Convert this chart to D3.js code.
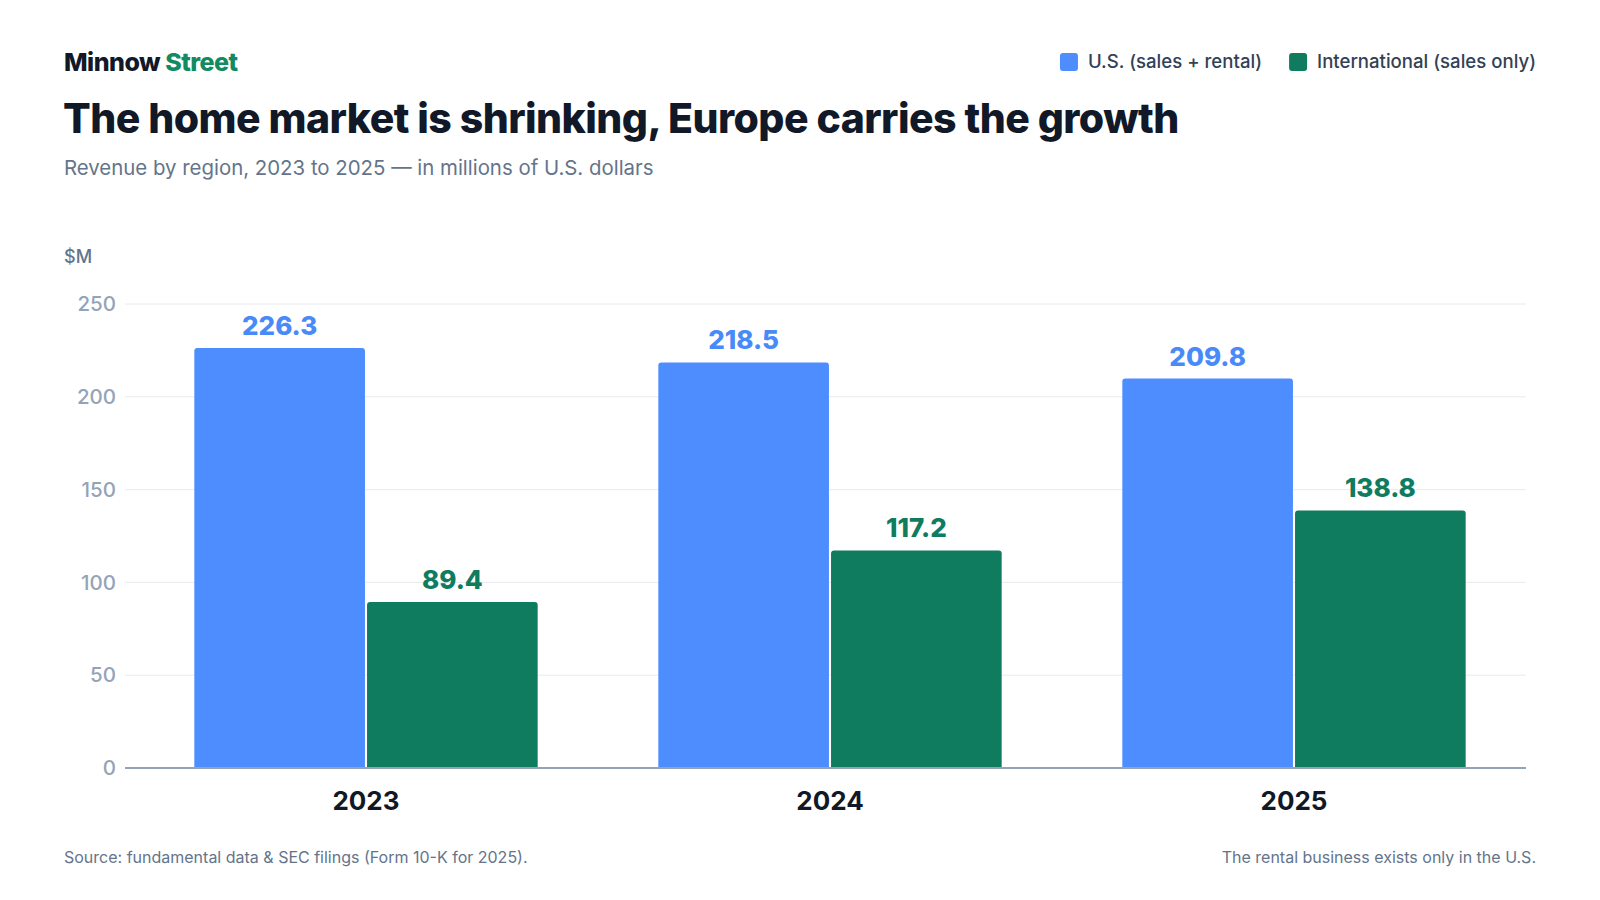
<!DOCTYPE html>
<html>
  <head>
    <title>Revenue by region</title>
    <script src="https://d3js.org/d3.v7.min.js"></script>
    <style>
      body { margin: 0; background: #fff; }
      svg { display: block; font-family: Inter, "Noto Sans", sans-serif; }
    </style>
  </head>
  <body>
    <svg id="chart" width="1600" height="900"></svg>

    <script>
      // data
      var years = ["2023", "2024", "2025"];
      var seriesNames = ["U.S. (sales + rental)", "International (sales only)"];
      var usRevenue = [226.3, 218.5, 209.8];
      var intlRevenue = [89.4, 117.2, 138.8];
      var yTicks = [0, 50, 100, 150, 200, 250];

      var colors = ["#4d8dfe", "#0f7b5f"];
      var labelColors = ["#4a8af8", "#0f7b5f"];

      var rows = years.map(function (y, i) {
        return { year: y, values: [usRevenue[i], intlRevenue[i]] };
      });

      const svg = d3.select("#chart");

      // header
      var brand = svg.append("text").attr("x", 64).attr("y", 71)
        .style("font-size", "25px").style("font-weight", 800).style("letter-spacing", "-0.5px");
      brand.append("tspan").attr("fill", "#111827").text("Minnow ");
      brand.append("tspan").attr("fill", "#128a62").text("Street");

      svg.append("text").attr("x", 63).attr("y", 133)
        .attr("fill", "#111827")
        .style("font-size", "41px").style("font-weight", 800).style("letter-spacing", "-0.55px")
        .text("The home market is shrinking, Europe carries the growth");

      svg.append("text").attr("x", 64).attr("y", 175)
        .attr("fill", "#64748b").style("font-size", "20.4px")
        .text("Revenue by region, 2023 to 2025 \u2014 in millions of U.S. dollars");

      // legend, right aligned
      var legend = svg.append("g");
      var lx = 1536;
      for (let i = seriesNames.length - 1; i >= 0; i--) {
        var t = legend.append("text").attr("x", lx).attr("y", 68)
          .attr("text-anchor", "end").attr("fill", "#334155")
          .style("font-size", "18.6px").style("font-weight", 500)
          .text(seriesNames[i]);
        var w = t.node().getComputedTextLength();
        legend.append("rect")
          .attr("x", lx - w - 28).attr("y", 53)
          .attr("width", 18).attr("height", 18).attr("rx", 3)
          .attr("fill", colors[i]);
        lx = lx - w - 28 - 27;
      }

      // scales
      var left = 125, right = 1526;
      var y = d3.scaleLinear().domain([0, 250]).range([768, 304]);
      var x0 = d3.scaleBand().domain(years).range([134, right])
        .paddingInner(0.26).paddingOuter(0.13);
      var x1 = d3.scaleBand().domain([0, 1]).range([0, x0.bandwidth()]).paddingInner(0.012);

      svg.append("text").attr("x", 64).attr("y", 263)
        .attr("fill", "#64748b").style("font-size", "18px").style("font-weight", 500)
        .text("$M");

      // grid + y labels
      var yAxis = svg.append("g");
      yAxis.selectAll("line").data(yTicks).join("line")
        .attr("x1", left).attr("x2", right)
        .attr("y1", (d) => y(d)).attr("y2", (d) => y(d))
        .attr("stroke", "#e8eaee").attr("stroke-width", 1);
      yAxis.selectAll("text").data(yTicks).join("text")
        .attr("x", 116).attr("y", (d) => y(d)).attr("dy", "0.35em")
        .attr("text-anchor", "end").attr("fill", "#94a3b8")
        .style("font-size", "20.5px").style("font-weight", 500)
        .text((d) => d);

      // bars with rounded tops
      var topRounded = function (x, yTop, w, h, r) {
        return "M" + x + "," + (yTop + h) +
          "V" + (yTop + r) +
          "Q" + x + "," + yTop + " " + (x + r) + "," + yTop +
          "H" + (x + w - r) +
          "Q" + (x + w) + "," + yTop + " " + (x + w) + "," + (yTop + r) +
          "V" + (yTop + h) + "Z";
      };

      var groups = svg.append("g").selectAll("g").data(rows).join("g")
        .attr("transform", (d) => "translate(" + x0(d.year) + ",0)");

      groups.selectAll("path")
        .data((d) => d.values.map((v, i) => ({ v: v, i: i })))
        .join("path")
        .attr("d", (d) => topRounded(x1(d.i), y(d.v), x1.bandwidth(), y(0) - y(d.v), 3))
        .attr("fill", (d) => colors[d.i]);

      groups.selectAll("text")
        .data((d) => d.values.map((v, i) => ({ v: v, i: i })))
        .join("text")
        .attr("x", (d) => x1(d.i) + x1.bandwidth() / 2)
        .attr("y", (d) => y(d.v) - 13)
        .attr("text-anchor", "middle")
        .attr("fill", (d) => labelColors[d.i])
        .style("font-size", "26px").style("font-weight", 800)
        .text((d) => d.v.toFixed(1));

      // baseline
      svg.append("line")
        .attr("x1", left).attr("x2", right)
        .attr("y1", y(0)).attr("y2", y(0))
        .attr("stroke", "#94a3b8").attr("stroke-width", 2);

      // year labels
      svg.append("g").selectAll("text").data(years).join("text")
        .attr("x", (d) => x0(d) + x0.bandwidth() / 2)
        .attr("y", 810)
        .attr("text-anchor", "middle").attr("fill", "#111827")
        .style("font-size", "26px").style("font-weight", 700)
        .text((d) => d);

      // footer
      svg.append("text").attr("x", 64).attr("y", 863)
        .attr("fill", "#64748b").style("font-size", "16px")
        .text("Source: fundamental data & SEC filings (Form 10-K for 2025).");
      svg.append("text").attr("x", 1536).attr("y", 863)
        .attr("text-anchor", "end")
        .attr("fill", "#64748b").style("font-size", "16px")
        .text("The rental business exists only in the U.S.");
    </script>
  </body>
</html>
